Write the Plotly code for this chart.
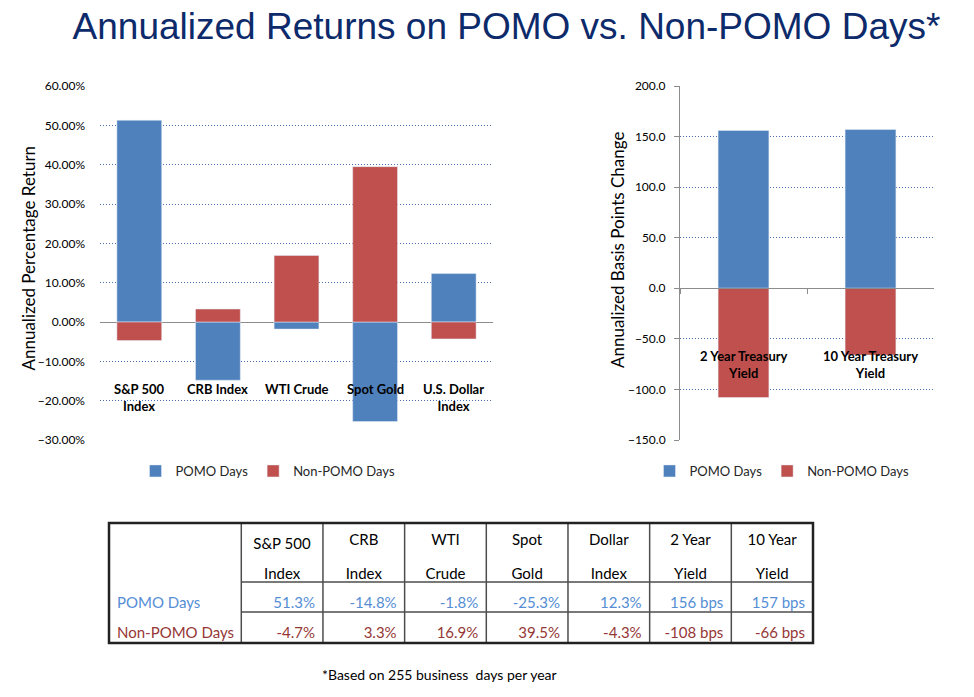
import plotly.graph_objects as go

# --- data ---
assets = ["S&P 500<br>Index", "CRB Index", "WTI Crude", "Spot Gold", "U.S. Dollar<br>Index"]
pomo_pct = [51.3, -14.8, -1.8, -25.3, 12.3]
non_pomo_pct = [-4.7, 3.3, 16.9, 39.5, -4.3]

treasuries = ["2 Year Treasury<br>Yield", "10 Year Treasury<br>Yield"]
pomo_bps = [156, 157]
non_pomo_bps = [-108, -66]

head_top = ["", "S&P 500", "CRB", "WTI", "Spot", "Dollar", "2 Year", "10 Year"]
head_bottom = ["", "Index", "Index", "Crude", "Gold", "Index", "Yield", "Yield"]
row_labels = ["POMO Days", "Non-POMO Days"]

BLUE = "#4F81BD"
RED = "#C0504D"
TXT_BLUE = "#558ED5"
TXT_RED = "#953735"
GRID = "#4a6fb5"
AXIS = "#8c8c8c"
FONT = "Lato"

# the page body has an 8px margin, so the figure is a bit smaller and
# screen positions are mapped into paper coordinates with that offset
OFF = 8
W, H = 974 - OFF, 697 - OFF


def px(x):
    return (x - OFF) / W


def py(y):
    return 1 - (y - OFF) / H


fig = go.Figure()

# left chart: percentage returns
fig.add_trace(go.Bar(x=assets, y=pomo_pct, name="POMO Days", marker_color=BLUE,
                     width=0.57, xaxis="x", yaxis="y", legend="legend"))
fig.add_trace(go.Bar(x=assets, y=non_pomo_pct, name="Non-POMO Days", marker_color=RED,
                     width=0.57, xaxis="x", yaxis="y", legend="legend"))

# right chart: basis points
fig.add_trace(go.Bar(x=treasuries, y=pomo_bps, name="POMO Days", marker_color=BLUE,
                     width=0.4, xaxis="x2", yaxis="y2", legend="legend2"))
fig.add_trace(go.Bar(x=treasuries, y=non_pomo_bps, name="Non-POMO Days", marker_color=RED,
                     width=0.4, xaxis="x2", yaxis="y2", legend="legend2"))

# table
cols = [[s.replace(" ", "\u00a0") for s in row_labels]]
for i in range(5):
    cols.append([f"{pomo_pct[i]:.1f}%", f"{non_pomo_pct[i]:.1f}%"])
for i in range(2):
    cols.append([f"{pomo_bps[i]:.0f} bps", f"{non_pomo_bps[i]:.0f} bps"])

col_w = [132] + [81.5] * 7
tab_x0, tab_x1, tab_y0, tab_y1 = 109, 813, 523, 643
txt_shift = 3  # table text sits a little lower than the frame
clear = "rgba(0,0,0,0)"
fig.add_trace(go.Table(
    domain=dict(x=[px(tab_x0), px(tab_x1)], y=[py(tab_y1 + txt_shift), py(tab_y0 + txt_shift)]),
    columnwidth=col_w,
    header=dict(values=[[a, b] for a, b in zip(head_top, head_bottom)],
                height=29, align="center", fill_color=clear,
                line=dict(color=clear, width=0),
                font=dict(family=FONT, size=15, color="black")),
    cells=dict(values=cols, height=30, align=["left"] + ["right"] * 7,
               fill_color=clear, line=dict(color=clear, width=0),
               font=dict(family=FONT, size=15, color=[[TXT_BLUE, TXT_RED]] * 8)),
))

# table rules
shapes = []
tot = sum(col_w)
edges = [tab_x0]
for w in col_w:
    edges.append(edges[-1] + w / tot * (tab_x1 - tab_x0))
for xe in edges[1:-1]:
    shapes.append(dict(type="line", xref="paper", yref="paper", x0=px(xe), x1=px(xe),
                       y0=py(tab_y0), y1=py(tab_y1), line=dict(color="#4d4d4d", width=1.5)))
for ye in [tab_y0 + 59, tab_y0 + 89]:
    shapes.append(dict(type="line", xref="paper", yref="paper", x0=px(edges[1]), x1=px(tab_x1),
                       y0=py(ye), y1=py(ye), line=dict(color="#4d4d4d", width=1.5)))
shapes.append(dict(type="rect", xref="paper", yref="paper", x0=px(tab_x0), x1=px(tab_x1),
                   y0=py(tab_y1), y1=py(tab_y0), line=dict(color="#222222", width=2.5)))

# bar chart geometry
ydom = [py(440), py(86)]
r2 = [-150, 200]
zero2 = ydom[0] + (0 - r2[0]) / (r2[1] - r2[0]) * (ydom[1] - ydom[0])

annotations = []
for a in assets:
    annotations.append(dict(x=a, y=-14.5, xref="x", yref="y", text=a, showarrow=False,
                            yanchor="top", font=dict(family=FONT, size=13, color="black", weight="bold")))
for t in treasuries:
    annotations.append(dict(x=t, y=-57, xref="x2", yref="y2", text=t, showarrow=False,
                            yanchor="top", font=dict(family=FONT, size=13, color="black", weight="bold")))
annotations.append(dict(x=px(15), y=py(258), xref="paper", yref="paper", textangle=-90,
                        text="Annualized Percentage Return", showarrow=False,
                        font=dict(family=FONT, size=17, color="black")))
annotations.append(dict(x=px(617), y=py(250), xref="paper", yref="paper", textangle=-90,
                        text="Annualized Basis Points Change", showarrow=False,
                        font=dict(family=FONT, size=17, color="black")))
annotations.append(dict(x=px(439), y=py(685), xref="paper", yref="paper",
                        text="*Based on 255 business&nbsp; days per year", showarrow=False,
                        font=dict(family=FONT, size=14, color="black")))

tickfont = dict(family=FONT, size=12, color="black")
fig.update_layout(
    width=W, height=H,
    margin=dict(l=0, r=0, t=0, b=0, autoexpand=False),
    paper_bgcolor="white", plot_bgcolor="white",
    barmode="relative",
    title=dict(text="Annualized Returns on POMO vs. Non-POMO Days*", x=px(506.5), y=py(26),
               xanchor="center", yanchor="middle",
               font=dict(family="Liberation Sans", size=37, color="#0D2A6B")),
    xaxis=dict(domain=[px(100), px(493)], anchor="y", showticklabels=False, ticks="",
               showline=False, showgrid=False, automargin=False),
    yaxis=dict(domain=ydom, anchor="x", range=[-30, 60], dtick=10, tickformat=".2f",
               ticksuffix="%", showgrid=True, gridcolor=GRID, griddash="1px,2px", gridwidth=1,
               zeroline=True, zerolinecolor=AXIS, zerolinewidth=1, showline=False,
               ticks="", ticklabelstandoff=14, tickfont=tickfont, automargin=False),
    xaxis2=dict(domain=[px(680), px(934)], anchor="free", position=zero2,
                showticklabels=False, showline=True, linecolor=AXIS, linewidth=1,
                ticks="outside", tickson="boundaries", ticklen=5, tickcolor=AXIS,
                showgrid=False, automargin=False),
    yaxis2=dict(domain=ydom, anchor="x2", range=r2, dtick=50, tickformat=".1f",
                showgrid=True, gridcolor=GRID, griddash="1px,2px", gridwidth=1,
                zeroline=False, showline=True, linecolor=AXIS, linewidth=1,
                ticks="outside", ticklen=5, tickcolor=AXIS, ticklabelstandoff=6,
                tickfont=tickfont, automargin=False),
    legend=dict(orientation="h", x=px(268), y=py(471), xanchor="center", yanchor="middle",
                font=dict(family=FONT, size=13, color="#262626"), bgcolor=clear),
    legend2=dict(orientation="h", x=px(782), y=py(471), xanchor="center", yanchor="middle",
                 font=dict(family=FONT, size=13, color="#262626"), bgcolor=clear),
    shapes=shapes,
    annotations=annotations,
)

fig.write_html("out.html")
